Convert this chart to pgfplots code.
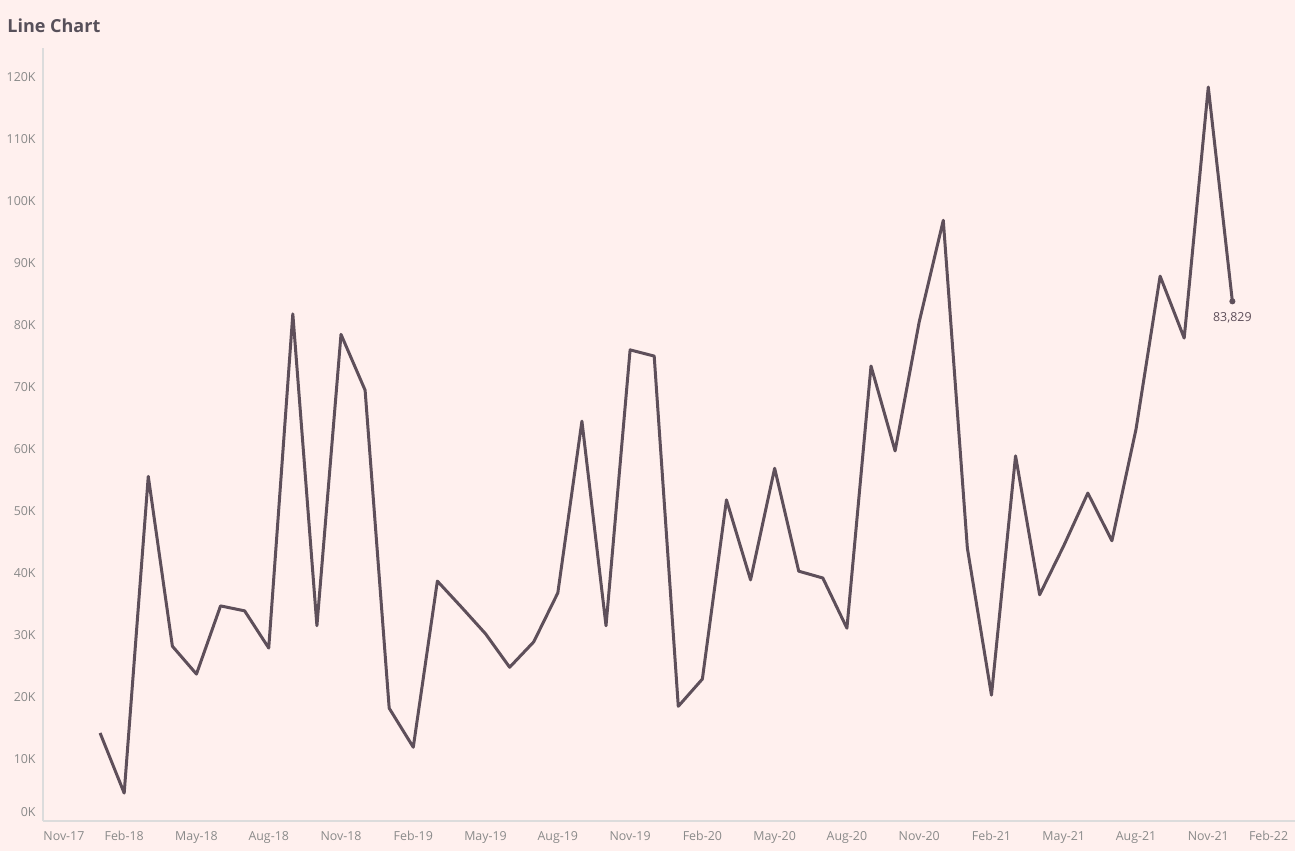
\documentclass[border=0pt]{standalone}
\usepackage{pgfplots}
\pgfplotsset{compat=1.18}
\usepackage{fontspec}
\setmainfont{Open Sans}
\definecolor{bg}{HTML}{FFF0EE}
\definecolor{linec}{HTML}{5E4F5A}
\definecolor{tickc}{HTML}{8A8A8A}
\definecolor{titlec}{HTML}{57505A}
\definecolor{axisc}{HTML}{DCDCDC}
\begin{document}
\begin{tikzpicture}
\useasboundingbox (0pt,0pt) rectangle (647.5pt,425.5pt);
\fill[bg] (0pt,0pt) rectangle (647.5pt,425.5pt);
\node[anchor=west,text=titlec,font=\fontsize{9}{10}\selectfont\bfseries,inner sep=0pt] at (3.5pt,412.8pt) {Line Chart};
\begin{axis}[
  at={(21.5pt,15pt)}, anchor=south west,
  scale only axis, width=626pt, height=386.5pt,
  xmin=-2.37, xmax=49.6, ymin=0, ymax=124.7,
  axis x line*=bottom, axis y line*=left,
  axis line style={axisc, line width=0.6pt},
  x axis line style={-}, y axis line style={-},
  tick style={draw=none},
  xtick={1,4,7,10,13,16,19,22,25,28,31,34,37,40,43,46},
  xticklabels={Feb-18,May-18,Aug-18,Nov-18,Feb-19,May-19,Aug-19,Nov-19,Feb-20,May-20,Aug-20,Nov-20,Feb-21,May-21,Aug-21,Nov-21},
  ytick={10,20,...,120},
  yticklabels={10K,20K,30K,40K,50K,60K,70K,80K,90K,100K,110K,120K},
  /pgf/number format/assume math mode=true,
  ticklabel style={text=tickc, font=\fontsize{6.2}{7}\selectfont, inner sep=0pt},
  xticklabel style={anchor=base, yshift=-9.7pt},
  yticklabel style={anchor=east, xshift=-3.5pt},
  clip=false,
]
\addplot[linec, line width=1.5pt, line join=round] coordinates {
(0,14.2) (1,4.5) (2,55.6) (3,28.2) (4,23.7) (5,34.7) (6,33.9) (7,27.9)
(8,81.8) (9,31.5) (10,78.5) (11,69.5) (12,18.2) (13,11.9) (14,38.7) (15,34.5)
(16,30.2) (17,24.8) (18,28.9) (19,36.8) (20,64.5) (21,31.5) (22,76.0) (23,75.0)
(24,18.5) (25,22.9) (26,51.8) (27,38.9) (28,56.9) (29,40.3) (30,39.2) (31,31.1)
(32,73.4) (33,59.7) (34,80.5) (35,96.9) (36,44.0) (37,20.3) (38,58.9) (39,36.5)
(40,44.4) (41,52.9) (42,45.2) (43,63.2) (44,87.9) (45,77.9) (46,118.4) (47,83.829)
};
\addplot[linec, only marks, mark=*, mark size=1.3pt] coordinates {(47,83.829)};
\node[anchor=north, text=linec, font=\fontsize{6.2}{7}\selectfont] at (axis cs:47,83.829) [yshift=-2pt] {83,829};
\node[anchor=base, text=tickc, font=\fontsize{6.2}{7}\selectfont, inner sep=0pt] at (axis cs:-2,0) [xshift=6pt, yshift=-9.7pt] {Nov-17};
\node[anchor=base, text=tickc, font=\fontsize{6.2}{7}\selectfont, inner sep=0pt] at (axis cs:49,0) [xshift=-6pt, yshift=-9.7pt] {Feb-22};
\node[anchor=east, text=tickc, font=\fontsize{6.2}{7}\selectfont, inner sep=0pt] at (axis cs:-2.37,0) [xshift=-3.5pt, yshift=4.5pt] {0K};
\end{axis}
\end{tikzpicture}
\end{document}
